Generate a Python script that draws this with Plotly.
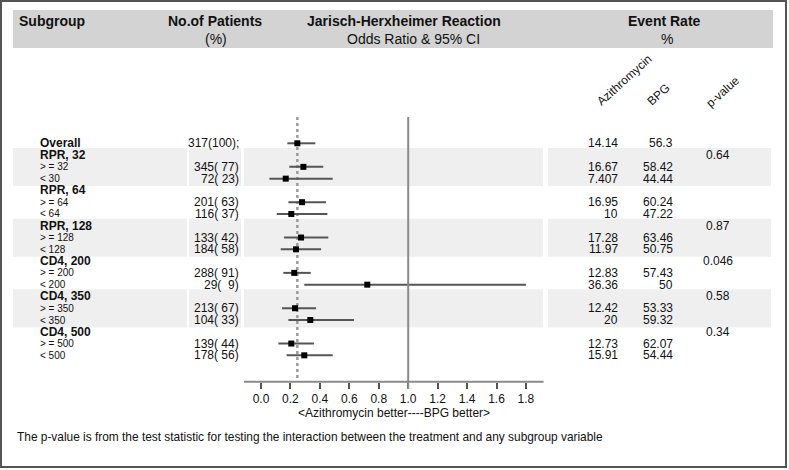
import plotly.graph_objects as go

W, H = 789, 470
FONT = "Liberation Sans, Arial, Helvetica, sans-serif"

# ---------------- data ----------------
row_labels = ["Overall", "RPR, 32", "> = 32", "< 30", "RPR, 64", "> = 64", "< 64",
              "RPR, 128", "> = 128", "< 128", "CD4, 200", "> = 200", "< 200",
              "CD4, 350", "> = 350", "< 350", "CD4, 500", "> = 500", "< 500"]
is_group = [True, True, False, False, True, False, False, True, False, False,
            True, False, False, True, False, False, True, False, False]
counts = ["317(100);", "", "345( 77)", "72( 23)", "", "201( 63)", "116( 37)", "",
          "133( 42)", "184( 58)", "", "288( 91)", "29(  9)", "", "213( 67)",
          "104( 33)", "", "139( 44)", "178( 56)"]
odds_ratio = [0.247, None, 0.288, 0.168, None, 0.279, 0.206, None, 0.272, 0.238,
              None, 0.226, 0.722, None, 0.231, 0.335, None, 0.206, 0.294]
ci_low = [0.179, None, 0.192, 0.057, None, 0.186, 0.107, None, 0.156, 0.134,
          None, 0.152, 0.294, None, 0.143, 0.186, None, 0.118, 0.174]
ci_high = [0.369, None, 0.423, 0.487, None, 0.442, 0.451, None, 0.457, 0.408,
           None, 0.338, 1.8, None, 0.374, 0.632, None, 0.360, 0.487]
rate_azithro = ["14.14", "", "16.67", "7.407", "", "16.95", "10", "", "17.28", "11.97",
                "", "12.83", "36.36", "", "12.42", "20", "", "12.73", "15.91"]
rate_bpg = ["56.3", "", "58.42", "44.44", "", "60.24", "47.22", "", "63.46", "50.75",
            "", "57.43", "50", "", "53.33", "59.32", "", "62.07", "54.44"]
p_values = ["", "0.64", "", "", "", "", "", "0.87", "", "", "0.046", "", "",
            "0.58", "", "", "0.34", "", ""]
shaded_groups = [(1, 3), (7, 9), (13, 15)]
x_ticks = [0.0, 0.2, 0.4, 0.6, 0.8, 1.0, 1.2, 1.4, 1.6, 1.8]
x_tick_text = ["0.0", "0.2", "0.4", "0.6", "0.8", "1.0", "1.2", "1.4", "1.6", "1.8"]

# ---------------- layout helpers (pixel -> paper) ----------------
def px(x):
    return x / W

def py(y):
    return 1 - y / H

ROW0, ROWH = 143.3, 11.78          # pixel y of row 0, row spacing
X0, XU = 261.0, 147.2              # pixel x of OR=0, pixels per unit
yr = [(H - ROW0) / ROWH, -ROW0 / ROWH]
xr = [-X0 / XU, (W - X0) / XU]
AXIS_Y = 381.7

fig = go.Figure()

rows = [i for i, v in enumerate(odds_ratio) if v is not None]
fig.add_trace(go.Scatter(
    x=[odds_ratio[i] for i in rows],
    y=rows,
    mode="markers",
    marker=dict(symbol="square", size=6, color="black"),
    error_x=dict(type="data", symmetric=False,
                 array=[ci_high[i] - odds_ratio[i] for i in rows],
                 arrayminus=[odds_ratio[i] - ci_low[i] for i in rows],
                 width=0, thickness=2, color="#555555"),
    showlegend=False, hoverinfo="skip", cliponaxis=False,
))

shapes = []
# outer border
shapes.append(dict(type="rect", xref="paper", yref="paper", x0=px(1), x1=px(786),
                   y0=py(1), y1=py(467), line=dict(color="#555555", width=2),
                   fillcolor="rgba(0,0,0,0)", layer="above"))
# header band
shapes.append(dict(type="rect", xref="paper", yref="paper", x0=px(13), x1=px(773),
                   y0=py(10), y1=py(48), line=dict(width=0), fillcolor="#d3d3d3",
                   layer="below"))
# shaded group bands
segments = [(13, 187), (189, 241), (244, 543), (548, 771)]
for a, b in shaded_groups:
    for s0, s1 in segments:
        shapes.append(dict(type="rect", xref="paper", yref="y", x0=px(s0), x1=px(s1),
                           y0=a - 0.6, y1=b + 0.63, line=dict(width=0),
                           fillcolor="#efefef", layer="below"))
# axis line
shapes.append(dict(type="line", xref="x", yref="paper", x0=-0.115, x1=1.92,
                   y0=py(AXIS_Y), y1=py(AXIS_Y), line=dict(color="#8a8a8a", width=2)))
# reference line at OR = 1
shapes.append(dict(type="line", xref="x", yref="paper", x0=1, x1=1,
                   y0=py(117), y1=py(389), line=dict(color="#8a8a8a", width=2)))
# dotted line at overall OR
shapes.append(dict(type="line", xref="x", yref="paper", x0=odds_ratio[0], x1=odds_ratio[0],
                   y0=py(117), y1=py(AXIS_Y), line=dict(color="#9a9a9a", width=2.5, dash="dot"),
                   layer="below"))

ann = []
def text(x, y, s, size=12, bold=False, xanchor="left", yref="paper", angle=0):
    ann.append(dict(x=x, y=y, xref="paper", yref=yref, text=("<b>%s</b>" % s) if bold else s,
                    showarrow=False, xanchor=xanchor, yanchor="middle", textangle=angle,
                    font=dict(family=FONT, size=size, color="#111111")))

# header texts
text(px(17), py(21), "Subgroup", 14, True)
text(px(215), py(21), "No.of Patients", 14, True, "center")
text(px(216), py(39), "(%)", 14, False, "center")
text(px(404), py(21), "Jarisch-Herxheimer Reaction", 14, True, "center")
text(px(413), py(39), "Odds Ratio &amp; 95% CI", 14, False, "center")
text(px(664.5), py(21), "Event Rate", 14, True, "center")
text(px(667), py(39), "%", 14, False, "center")
# rotated column headers
text(px(624.5), py(80), "Azithromycin", 12, False, "center", angle=-42)
text(px(658), py(95), "BPG", 12, False, "center", angle=-42)
text(px(722.5), py(92), "p-value", 12, False, "center", angle=-42)

for i, lab in enumerate(row_labels):
    if is_group[i]:
        text(px(38), i, lab, 12, True, yref="y")
    else:
        text(px(38), i, lab, 10, False, yref="y")
    if counts[i]:
        text(px(240.5), i, counts[i].replace(" ", "\u00a0"), 12, False, "right", yref="y")
    if rate_azithro[i]:
        text(px(619.5), i, rate_azithro[i], 12, False, "right", yref="y")
    if rate_bpg[i]:
        text(px(674.5), i, rate_bpg[i], 12, False, "right", yref="y")
    if p_values[i]:
        text(px(718), i, p_values[i], 12, False, "center", yref="y")

text(px(394), py(413), "&lt;Azithromycin better----BPG better&gt;", 12, False, "center")
text(px(15), py(437), "The p-value is from the test statistic for testing the interaction "
     "between the treatment and any subgroup variable", 11.9, False)

fig.update_layout(
    width=W, height=H, margin=dict(l=0, r=0, t=0, b=0),
    paper_bgcolor="white", plot_bgcolor="rgba(0,0,0,0)",
    shapes=shapes, annotations=ann,
    xaxis=dict(range=xr, anchor="free", position=py(AXIS_Y), showgrid=False,
               zeroline=False, showline=False, tickvals=x_ticks, ticktext=x_tick_text,
               ticks="outside", ticklen=6, tickwidth=1.5, tickcolor="#555555",
               tickfont=dict(family=FONT, size=12, color="#111111"), fixedrange=True),
    yaxis=dict(range=yr, visible=False, showgrid=False, zeroline=False, fixedrange=True),
    font=dict(family=FONT),
)

fig.write_html("out.html", config={"displayModeBar": False},
               post_script="document.body.style.margin='0';document.body.style.overflow='hidden';")
